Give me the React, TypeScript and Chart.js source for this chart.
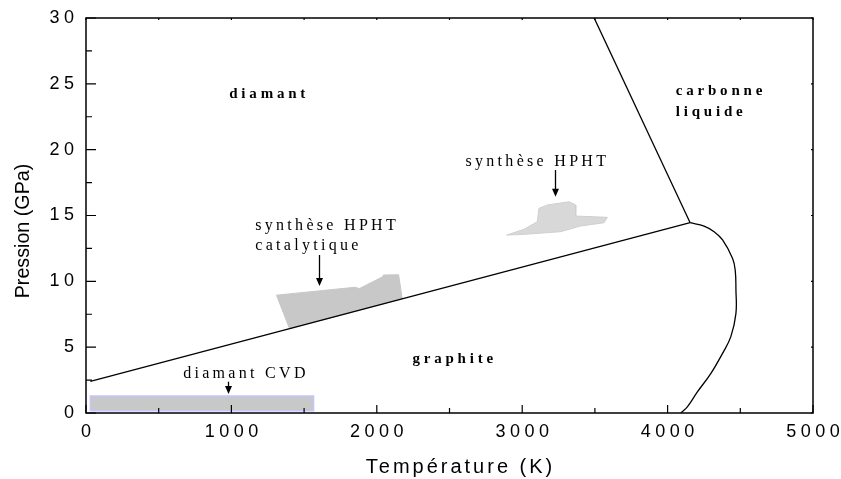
import React, { useEffect, useRef } from "react";
import { Chart, registerables } from "chart.js";

Chart.register(...registerables);

// Axis tick values
const xTickValues = [0, 1000, 2000, 3000, 4000, 5000];
const yTickValues = [0, 5, 10, 15, 20, 25, 30];

// Graphite / diamond boundary
const gdT = [30, 4155];
const gdP = [2.4, 14.45];

// Diamond / liquid boundary
const dlT = [4155, 3495];
const dlP = [14.45, 30];

// Graphite melting curve
const meltT = [4155, 4251, 4320, 4378, 4447, 4465, 4470, 4470, 4435, 4378, 4298, 4206, 4137, 4091];
const meltP = [14.45, 14.2, 13.77, 13.14, 11.74, 10.86, 9.34, 7.57, 5.8, 4.53, 3.01, 1.62, 0.48, 0];

// CVD diamond region
const cvdT = [30, 1565, 1565, 30, 30];
const cvdP = [0.17, 0.17, 1.29, 1.29, 0.17];

// Catalytic HPHT region
const catT = [1310, 1850, 1880, 2040, 2045, 2150, 2175, 1400, 1310];
const catP = [8.95, 9.55, 9.45, 10.35, 10.48, 10.5, 8.67, 6.4, 8.95];

// HPHT region
const hphtT = [2893, 3012, 3104, 3115, 3173, 3322, 3368, 3368, 3586, 3563, 3402, 3264, 3012, 2893];
const hphtP = [13.51, 13.95, 14.53, 15.54, 15.8, 16.04, 15.8, 14.96, 14.86, 14.45, 14.2, 13.77, 13.57, 13.51];

// Labels (text, temperature, pressure, bold)
const labelTexts = ["diamant", "carbonne", "liquide", "graphite", "synthèse HPHT", "synthèse HPHT", "catalytique", "diamant CVD"];
const labelT = [985, 4056, 4056, 2245, 2610, 1164, 1164, 668];
const labelP = [23.9, 24.15, 22.55, 3.77, 18.78, 13.9, 12.38, 2.68];
const labelBold = [true, true, true, true, false, false, false, false];

// Arrows (temperature, start pressure, end pressure)
const arrowT = [3225, 1605, 978];
const arrowP1 = [18.45, 12.0, 2.38];
const arrowP2 = [16.42, 9.64, 1.44];

const pts = (t: number[], p: number[]) => t.map((v, i) => ({ x: v, y: p[i] }));

const overlayPlugin = {
  id: "overlay",
  afterDatasetsDraw(chart: any) {
    const { ctx, chartArea: a, scales } = chart;
    const x = scales.x;
    const y = scales.y;
    ctx.save();
    // frame
    ctx.strokeStyle = "#000";
    ctx.lineWidth = 1.5;
    ctx.strokeRect(a.left, a.top, a.right - a.left, a.bottom - a.top);
    // ticks
    ctx.lineWidth = 1.2;
    ctx.beginPath();
    for (let i = 0; i < xTickValues.length; i++) {
      const v = xTickValues[i];
      const px = x.getPixelForValue(v);
      ctx.moveTo(px, a.bottom);
      ctx.lineTo(px, a.bottom - 8);
      ctx.moveTo(px, a.top);
      ctx.lineTo(px, a.top + 2);
      if (i < xTickValues.length - 1) {
        const m = x.getPixelForValue((v + xTickValues[i + 1]) / 2);
        ctx.moveTo(m, a.bottom);
        ctx.lineTo(m, a.bottom - 5);
        ctx.moveTo(m, a.top);
        ctx.lineTo(m, a.top + 2);
      }
    }
    for (let i = 0; i < yTickValues.length; i++) {
      const v = yTickValues[i];
      const py = y.getPixelForValue(v);
      ctx.moveTo(a.left, py);
      ctx.lineTo(a.left + 10, py);
      ctx.moveTo(a.right, py);
      ctx.lineTo(a.right - 2, py);
      if (i < yTickValues.length - 1) {
        const m = y.getPixelForValue((v + yTickValues[i + 1]) / 2);
        ctx.moveTo(a.left, m);
        ctx.lineTo(a.left + 6, m);
      }
    }
    ctx.stroke();

    // tick labels
    ctx.fillStyle = "#000";
    ctx.font = "18px 'Liberation Sans', Arial, sans-serif";
    (ctx as any).letterSpacing = "4.5px";
    ctx.textBaseline = "middle";
    ctx.textAlign = "left";
    for (const v of yTickValues) {
      const s = String(v);
      const w = ctx.measureText(s).width - 4.5;
      ctx.fillText(s, a.left - 12 - w, y.getPixelForValue(v));
    }
    for (const v of xTickValues) {
      const s = String(v);
      const w = ctx.measureText(s).width - 4.5;
      ctx.fillText(s, x.getPixelForValue(v) - w / 2, a.bottom + 19);
    }
    // axis titles
    ctx.font = "20px 'Liberation Sans', Arial, sans-serif";
    (ctx as any).letterSpacing = "3px";
    ctx.textBaseline = "alphabetic";
    const xt = "Température (K)";
    const xw = ctx.measureText(xt).width - 3;
    ctx.fillText(xt, 459 - xw / 2, 473);

    ctx.save();
    ctx.font = "19.7px 'Liberation Sans', Arial, sans-serif";
    (ctx as any).letterSpacing = "0px";
    ctx.translate(28.5, 231);
    ctx.rotate(-Math.PI / 2);
    ctx.textAlign = "center";
    ctx.fillText("Pression (GPa)", 0, 0);
    ctx.restore();

    // annotation labels
    ctx.textAlign = "left";
    ctx.textBaseline = "alphabetic";
    for (let i = 0; i < labelTexts.length; i++) {
      if (labelBold[i]) {
        ctx.font = "bold 15px 'Liberation Serif', 'Times New Roman', serif";
        (ctx as any).letterSpacing = "3.8px";
      } else {
        ctx.font = "16px 'Liberation Serif', 'Times New Roman', serif";
        (ctx as any).letterSpacing = "3.3px";
      }
      ctx.fillText(labelTexts[i], x.getPixelForValue(labelT[i]), y.getPixelForValue(labelP[i]));
    }
    // arrows
    ctx.lineWidth = 1.3;
    for (let i = 0; i < arrowT.length; i++) {
      const px = Math.round(x.getPixelForValue(arrowT[i])) + 0.5;
      const y1 = y.getPixelForValue(arrowP1[i]);
      const y2 = y.getPixelForValue(arrowP2[i]);
      ctx.beginPath();
      ctx.moveTo(px, y1);
      ctx.lineTo(px, y2 - 6);
      ctx.stroke();
      ctx.beginPath();
      ctx.moveTo(px - 3.5, y2 - 8);
      ctx.lineTo(px + 3.5, y2 - 8);
      ctx.lineTo(px, y2);
      ctx.closePath();
      ctx.fill();
    }
    ctx.restore();
  },
};

export default function App() {
  const ref = useRef<HTMLCanvasElement | null>(null);
  useEffect(() => {
    if (!ref.current) return;
    const chart = new Chart(ref.current, {
      type: "scatter",
      data: {
        datasets: [
          {
            label: "graphite-diamant",
            data: pts(gdT, gdP),
            showLine: true,
            borderColor: "#000",
            borderWidth: 1.3,
            pointRadius: 0,
            order: 1,
          },
          {
            label: "diamant-liquide",
            data: pts(dlT, dlP),
            showLine: true,
            borderColor: "#000",
            borderWidth: 1.3,
            pointRadius: 0,
            order: 1,
          },
          {
            label: "fusion graphite",
            data: pts(meltT, meltP),
            showLine: true,
            borderColor: "#000",
            borderWidth: 1.3,
            pointRadius: 0,
            tension: 0.4,
            order: 1,
          },
          {
            label: "CVD",
            data: pts(cvdT, cvdP),
            showLine: true,
            borderColor: "#c4c4ff",
            backgroundColor: "#c8c8c8",
            borderWidth: 1.5,
            pointRadius: 0,
            fill: "shape",
            order: 3,
          },
          {
            label: "HPHT catalytique",
            data: pts(catT, catP),
            showLine: true,
            borderColor: "#c8c8c8",
            backgroundColor: "#c8c8c8",
            borderWidth: 1,
            pointRadius: 0,
            fill: "shape",
            order: 3,
          },
          {
            label: "HPHT",
            data: pts(hphtT, hphtP),
            showLine: true,
            borderColor: "#cfcfcf",
            backgroundColor: "#d8d8d8",
            borderWidth: 1,
            pointRadius: 0,
            fill: "shape",
            order: 3,
          },
        ],
      },
      options: {
        animation: false,
        responsive: true,
        maintainAspectRatio: false,
        layout: { padding: { left: 0, top: 18, right: 28, bottom: 0 } },
        plugins: { legend: { display: false }, tooltip: { enabled: false } },
        scales: {
          x: {
            type: "linear",
            min: 0,
            max: 5000,
            ticks: { display: false, stepSize: 1000 },
            grid: { display: false },
            border: { display: false },
            afterFit: (s: any) => {
              s.height = 66;
            },
          },
          y: {
            type: "linear",
            min: 0,
            max: 30,
            ticks: { display: false, stepSize: 5 },
            grid: { display: false },
            border: { display: false },
            afterFit: (s: any) => {
              s.width = 86;
            },
          },
        },
      },
      plugins: [overlayPlugin],
    });
    return () => chart.destroy();
  }, []);
  return (
    <div style={{ position: "absolute", left: 0, top: 0, width: 841, height: 479, background: "#fff" }}>
      <canvas ref={ref} />
    </div>
  );
}
